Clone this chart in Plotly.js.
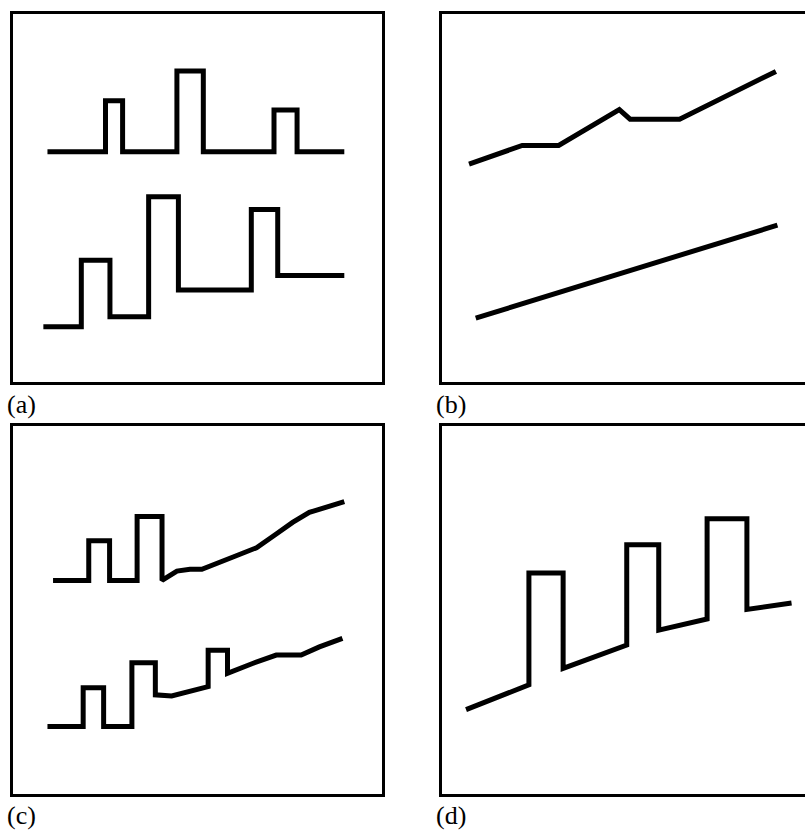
<!DOCTYPE html>
<html>
<head>
<meta charset="utf-8">
<script src="https://cdn.plot.ly/plotly-3.0.1.min.js"></script>
<style>html,body{margin:0;padding:0;background:#fff;}#chart{width:805px;height:831px;}</style>
</head>
<body>
<div id="chart"></div>
<script>
// Panel labels
const panelLabels = ["(a)", "(b)", "(c)", "(d)"];

// Panel (a): two step profiles (x in 0-100 units, y in 0-100 units)
const aUpperX = [9.8, 25.4, 30.0, 44.6, 51.7, 70.7, 76.9, 89.6];
const aUpperY = [62.4, 76.2, 62.4, 84.2, 62.4, 73.7, 62.4, 62.4];
const aLowerX = [8.7, 18.9, 26.6, 37.0, 45.0, 64.6, 71.7, 89.6];
const aLowerY = [15.2, 33.1, 17.9, 50.3, 25.1, 46.8, 29.0, 29.0];

// Panel (b): trend lines
const bUpperX = [7.8, 22.1, 31.9, 48.2, 51.1, 64.4, 90.3];
const bUpperY = [59.1, 64.1, 64.1, 73.8, 71.2, 71.2, 84.1];
const bLowerX = [9.6, 90.7];
const bLowerY = [17.5, 42.6];

// Panel (c): steps followed by trends
const cUpperX = [11.3, 20.9, 20.9, 26.5, 26.5, 33.9, 33.9, 40.6, 40.6, 44.6, 48.1, 51.3, 59.7, 66.0, 71.3, 75.7, 80.2, 84.7, 89.6];
const cUpperY = [57.9, 57.9, 68.6, 68.6, 57.9, 57.9, 75.1, 75.1, 57.9, 60.4, 60.9, 60.9, 64.2, 66.7, 70.4, 73.5, 76.2, 77.7, 79.1];
const cLowerX = [9.8, 19.4, 19.4, 24.9, 24.9, 32.5, 32.5, 38.8, 38.8, 43.2, 53.0, 53.0, 58.2, 58.2, 65.1, 71.3, 78.0, 82.9, 89.1];
const cLowerY = [18.6, 18.6, 29.0, 29.0, 18.6, 18.6, 35.7, 35.7, 27.1, 26.8, 29.3, 39.1, 39.1, 32.9, 35.6, 37.8, 37.8, 40.0, 42.3];

// Panel (d): steps on a rising trend
const dX = [7.0, 23.9, 23.9, 33.1, 33.1, 50.2, 50.2, 58.8, 58.8, 71.8, 71.8, 82.5, 82.5, 94.5];
const dY = [23.1, 29.8, 59.9, 59.9, 34.2, 40.5, 67.5, 67.5, 44.5, 47.5, 74.5, 74.5, 50.1, 51.8];

const W = 805, H = 831;
const lineStyle = {color: "#000", width: 5};
const BW = 3;           // border width
const INSET = BW / 2;   // plotly draws axis lines just outside the domain

const traces = [
  {x: aUpperX, y: aUpperY, xaxis: "x", yaxis: "y", mode: "lines", line: Object.assign({shape: "hv"}, lineStyle)},
  {x: aLowerX, y: aLowerY, xaxis: "x", yaxis: "y", mode: "lines", line: Object.assign({shape: "hv"}, lineStyle)},
  {x: bUpperX, y: bUpperY, xaxis: "x2", yaxis: "y2", mode: "lines", line: lineStyle},
  {x: bLowerX, y: bLowerY, xaxis: "x2", yaxis: "y2", mode: "lines", line: lineStyle},
  {x: cUpperX, y: cUpperY, xaxis: "x3", yaxis: "y3", mode: "lines", line: lineStyle},
  {x: cLowerX, y: cLowerY, xaxis: "x3", yaxis: "y3", mode: "lines", line: lineStyle},
  {x: dX, y: dY, xaxis: "x4", yaxis: "y4", mode: "lines", line: lineStyle}
];

function px2paperX(px) { return px / W; }
function px2paperY(py) { return 1 - py / H; }

// Panel border centre-lines in pixels
const leftBox = [11, 383];
const rightBox = [440, 812];
const topRow = [12.5, 383];
const botRow = [424, 795.5];

function xax(box, anchor) {
  const d0 = box[0] + INSET;
  const d1 = Math.min(box[1] - INSET, W);
  const span = box[1] - box[0];
  return {
    domain: [px2paperX(d0), px2paperX(d1)],
    range: [(d0 - box[0]) / span * 100, (d1 - box[0]) / span * 100], anchor: anchor,
    showgrid: false, zeroline: false, showticklabels: false, ticks: "",
    showline: true, mirror: true, linecolor: "#000", linewidth: BW, fixedrange: true
  };
}
function yax(row, anchor, mirror) {
  const d0 = row[0] + INSET, d1 = row[1] - INSET;
  const span = row[1] - row[0];
  return {
    domain: [px2paperY(d1), px2paperY(d0)],
    range: [(row[1] - d1) / span * 100, (row[1] - d0) / span * 100], anchor: anchor,
    showgrid: false, zeroline: false, showticklabels: false, ticks: "",
    showline: true, mirror: mirror, linecolor: "#000", linewidth: BW, fixedrange: true
  };
}

// label box bottom edges (pixels from top)
const labelPos = [[6, 420], [435, 420], [6, 831], [435, 831]];
const annotations = panelLabels.map((t, i) => ({
  text: t, xref: "paper", yref: "paper",
  x: px2paperX(labelPos[i][0]), y: px2paperY(labelPos[i][1]),
  xanchor: "left", yanchor: "bottom", showarrow: false, borderpad: 0,
  font: {family: "Liberation Serif, Times New Roman, serif", size: 26, color: "#000"}
}));

const layout = {
  width: W, height: H,
  margin: {l: 0, r: 0, t: 0, b: 0, pad: 0},
  paper_bgcolor: "#fff", plot_bgcolor: "#fff",
  showlegend: false,
  xaxis: xax(leftBox, "y"), yaxis: yax(topRow, "x", true),
  xaxis2: xax(rightBox, "y2"), yaxis2: yax(topRow, "x2", false),
  xaxis3: xax(leftBox, "y3"), yaxis3: yax(botRow, "x3", true),
  xaxis4: xax(rightBox, "y4"), yaxis4: yax(botRow, "x4", false),
  annotations: annotations
};

Plotly.newPlot("chart", traces, layout, {displayModeBar: false, staticPlot: true});
</script>
</body>
</html>
